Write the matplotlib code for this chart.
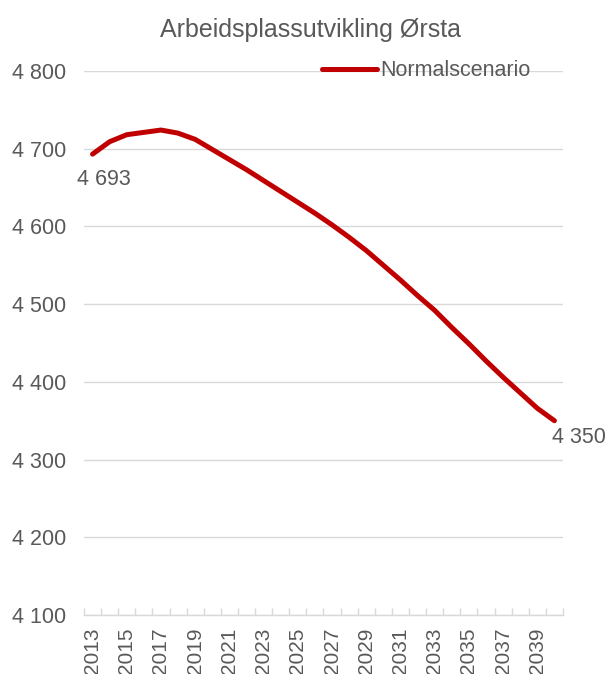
import matplotlib.pyplot as plt
import numpy as np

plt.rcParams['font.family'] = ['Liberation Sans', 'DejaVu Sans']

years = list(range(2013, 2041))
normalscenario = [4693, 4709, 4718, 4721, 4724, 4720, 4712, 4699,
                  4686, 4673, 4659, 4645, 4631, 4617, 4602, 4586,
                  4569, 4550, 4531, 4511, 4492, 4470, 4449, 4427,
                  4406, 4386, 4366, 4350]
y_ticks = [4100, 4200, 4300, 4400, 4500, 4600, 4700, 4800]
series_name = 'Normalscenario'
title = 'Arbeidsplassutvikling Ørsta'

TEXT = '#595959'
GRID = '#d9d9d9'
RED = '#c00000'


def fmt(v):
    return f'{v:,}'.replace(',', ' ')


fig = plt.figure(figsize=(6.06, 6.74), dpi=100)
ax = fig.add_axes([0.1386, 0.0875, 0.7904, 0.8072])

ax.plot(years, normalscenario, color=RED, linewidth=3.6,
        solid_capstyle='round', solid_joinstyle='round', label=series_name, zorder=3)

ax.set_xlim(years[0] - 0.5, years[-1] + 0.5)
ax.set_ylim(y_ticks[0], y_ticks[-1])

ax.set_yticks(y_ticks)
ax.set_yticklabels([fmt(v) for v in y_ticks])
ax.yaxis.grid(True, color=GRID, linewidth=1)
ax.set_axisbelow(True)

ax.set_xticks(years[::2])
ax.set_xticklabels([str(y) for y in years[::2]], rotation=90)
ax.set_xticks(np.arange(years[0] - 0.5, years[-1] + 1), minor=True)
ax.tick_params(axis='x', which='major', length=0, pad=9, labelsize=15, labelcolor=TEXT)
ax.tick_params(axis='x', which='minor', direction='in', length=5, color=GRID, width=1)
ax.tick_params(axis='y', length=0, pad=13, labelsize=15.5, labelcolor=TEXT)

for s in ['top', 'right', 'left']:
    ax.spines[s].set_visible(False)
ax.spines['bottom'].set_color(GRID)
ax.spines['bottom'].set_linewidth(1)

ax.annotate(fmt(normalscenario[0]), (years[0], normalscenario[0]),
            xytext=(-11.5, -11), textcoords='offset points', ha='left', va='top',
            fontsize=15.5, color=TEXT)
ax.annotate(fmt(normalscenario[-1]), (years[-1], normalscenario[-1]),
            xytext=(-2, -4.5), textcoords='offset points', ha='left', va='top',
            fontsize=15.5, color=TEXT, annotation_clip=False)

leg = ax.legend(loc='center', bbox_to_anchor=(0.714, 1.0), frameon=False,
                fontsize=15.5, handlelength=2.55, handletextpad=0.15,
                labelcolor=TEXT)

fig.text(0.513, 0.955, title, ha='center', va='center', fontsize=18, color=TEXT)

fig.savefig('out.png', dpi=100)
